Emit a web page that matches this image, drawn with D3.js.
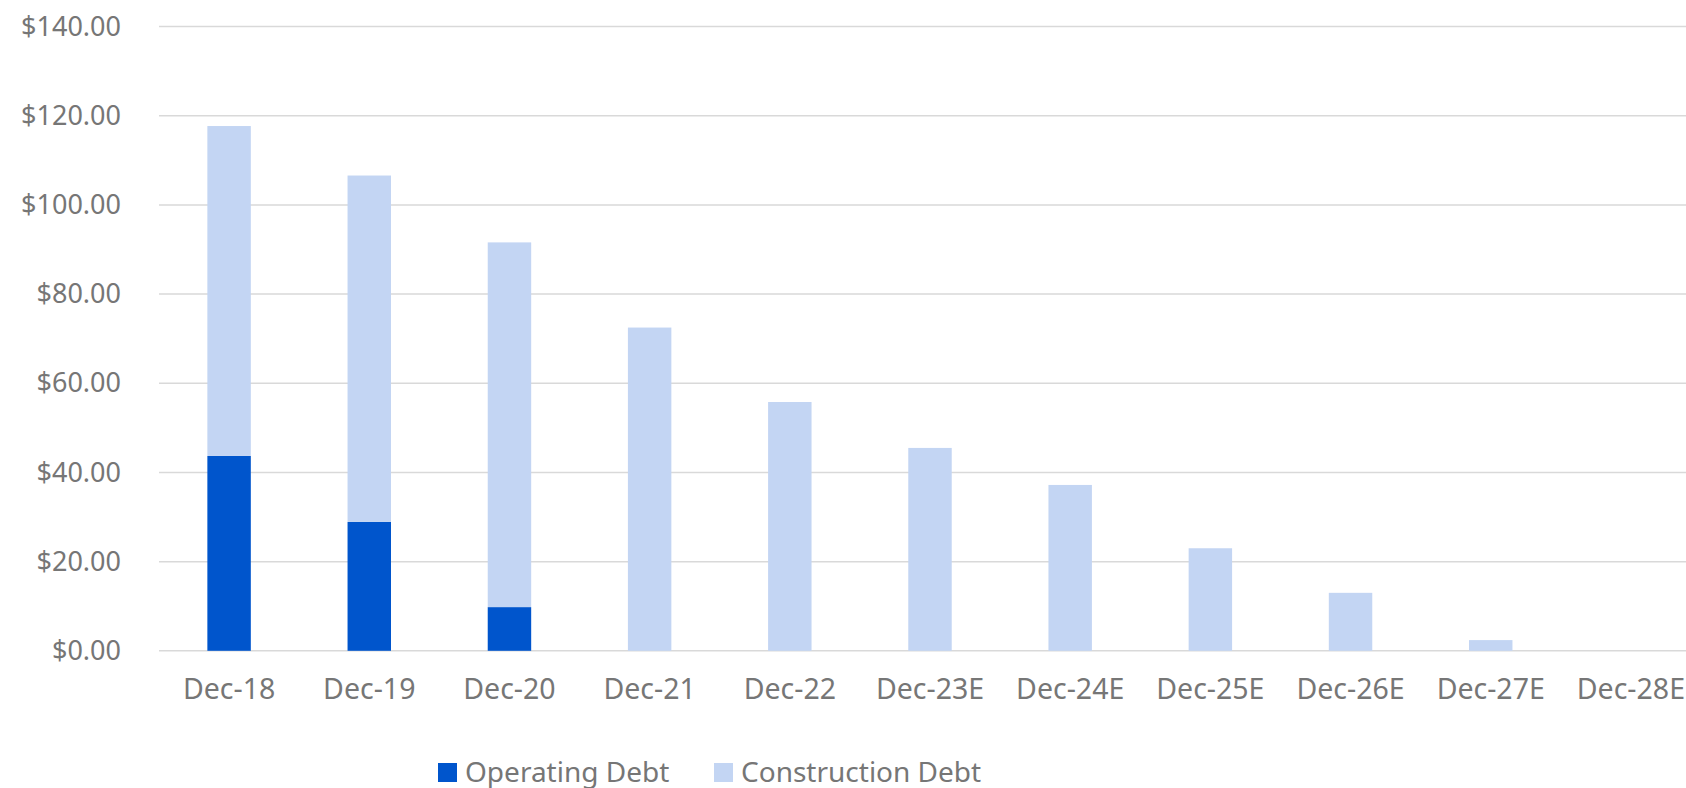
<!DOCTYPE html>
<html>
<head>
<meta charset="utf-8">
<script src="https://cdn.jsdelivr.net/npm/d3@7"></script>
<style>
  body { margin: 0; background: #fff; }
  svg { display: block; }
</style>
</head>
<body>
<svg id="chart"></svg>
<script>
// values
let categories = ["Dec-18","Dec-19","Dec-20","Dec-21","Dec-22","Dec-23E","Dec-24E","Dec-25E","Dec-26E","Dec-27E","Dec-28E"];
let operatingDebt = [43.7, 28.9, 9.8, 0, 0, 0, 0, 0, 0, 0, 0];
let constructionDebt = [74.0, 77.7, 81.8, 72.5, 55.8, 45.5, 37.2, 23.0, 13.0, 2.4, 0];
let yTicks = [0, 20, 40, 60, 80, 100, 120, 140];
let seriesNames = ["Operating Debt", "Construction Debt"];

let colors = {"Operating Debt": "#0055cc", "Construction Debt": "#c3d5f3"};
let textColor = "#767676";
let font = "'Noto Sans', sans-serif";

let W = 1686, H = 788;
let svg = d3.select("#chart").attr("width", W).attr("height", H);

// plot area runs a bit past the right edge, like the original
let x = d3.scaleBand()
    .domain(categories)
    .range([159, 1701])
    .paddingInner(0.69)
    .paddingOuter(0.345);

let y = d3.scaleLinear()
    .domain([0, 140])
    .range([650.8, 26.6]);

// gridlines
svg.append("g")
    .selectAll("line")
    .data(yTicks)
    .join("line")
    .attr("x1", 159)
    .attr("x2", W)
    .attr("y1", d => y(d))
    .attr("y2", d => y(d))
    .attr("stroke", "#d9d9d9")
    .attr("stroke-width", 1.5);

// y axis labels
let yAxis = svg.append("g")
    .attr("transform", "translate(121,0)")
    .call(d3.axisLeft(y).tickValues(yTicks).tickSize(0).tickPadding(0).tickFormat(d => "$" + d3.format(".2f")(d)));
yAxis.select(".domain").remove();
yAxis.selectAll("text")
    .style("font-family", font)
    .style("font-size", "27px")
    .attr("fill", textColor);

// stacked bars
let rows = categories.map((c, i) => ({cat: c, "Operating Debt": operatingDebt[i], "Construction Debt": constructionDebt[i]}));
let stack = d3.stack().keys(seriesNames)(rows);

svg.append("g")
    .selectAll("g")
    .data(stack)
    .join("g")
    .attr("fill", d => colors[d.key])
    .selectAll("rect")
    .data(d => d)
    .join("rect")
    .attr("x", d => x(d.data.cat))
    .attr("width", x.bandwidth())
    .attr("y", d => y(d[1]))
    .attr("height", d => y(d[0]) - y(d[1]));

// x axis labels
let xAxis = svg.append("g")
    .attr("transform", "translate(0,679)")
    .call(d3.axisBottom(x).tickSize(0).tickPadding(0));
xAxis.select(".domain").remove();
xAxis.selectAll("text")
    .style("font-family", font)
    .style("font-size", "28.5px")
    .attr("fill", textColor);

// legend
let legendX = [438, 714];
let legend = svg.append("g")
    .selectAll("g")
    .data(seriesNames)
    .join("g")
    .attr("transform", (d, i) => "translate(" + legendX[i] + ",763)");

legend.append("rect")
    .attr("width", 19)
    .attr("height", 19)
    .attr("fill", d => colors[d]);

legend.append("text")
    .attr("x", 27)
    .attr("y", 19)
    .style("font-family", font)
    .style("font-size", "28px")
    .attr("fill", textColor)
    .text(d => d);
</script>
</body>
</html>
